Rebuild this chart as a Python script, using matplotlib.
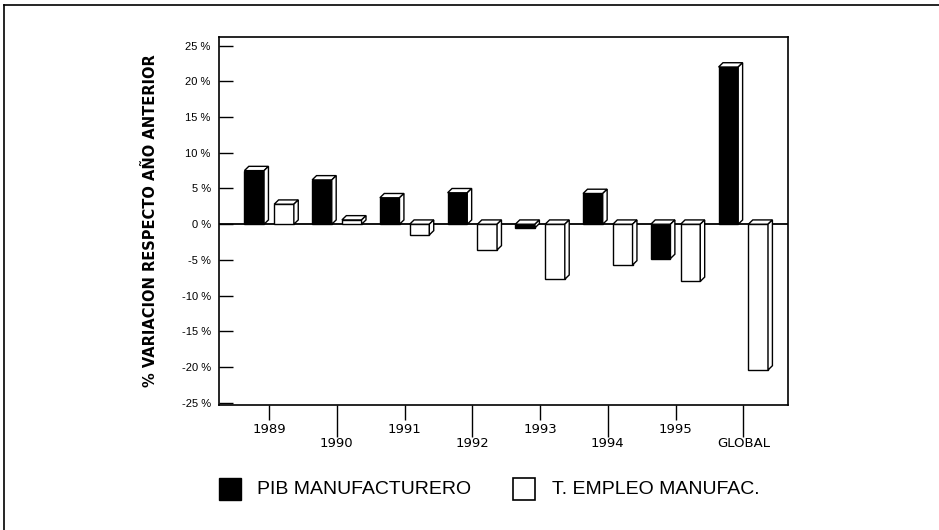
import numpy as np
import matplotlib.pyplot as plt
from matplotlib.patches import Rectangle, Polygon
from matplotlib.lines import Line2D

plt.rcParams['font.family'] = ['Liberation Sans', 'DejaVu Sans']

categories = ['1989', '1990', '1991', '1992', '1993', '1994', '1995', 'GLOBAL']
pib = [7.5, 6.2, 3.7, 4.4, -0.5, 4.3, -4.8, 22.0]
empleo = [2.8, 0.6, -1.5, -3.6, -7.7, -5.7, -8.0, -20.4]
yticks = [25, 20, 15, 10, 5, 0, -5, -10, -15, -20, -25]

fig = plt.figure(figsize=(9.39, 5.30), dpi=100)
ax = fig.add_axes([219/939, 1 - 405/530, (788-219)/939, (405-37)/530])

w = 0.29
off = 0.22
dx, dy = 0.065, 0.6


def bar3d(x, v, color):
    x0, x1 = x - w/2, x + w/2
    ax.add_patch(Rectangle((x0, min(0, v)), w, abs(v), facecolor=color,
                           edgecolor='black', lw=1.0, zorder=3))
    top = max(v, 0)
    ax.add_patch(Polygon([(x0, top), (x1, top), (x1 + dx, top + dy), (x0 + dx, top + dy)],
                         closed=True, facecolor='white', edgecolor='black', lw=1.0, zorder=3))
    ax.add_patch(Polygon([(x1, min(v, 0)), (x1, top), (x1 + dx, top + dy), (x1 + dx, min(v, 0) + dy)],
                         closed=True, facecolor='white', edgecolor='black', lw=1.0, zorder=3))


for i in range(len(categories)):
    bar3d(i - off, pib[i], 'black')
    bar3d(i + off, empleo[i], 'white')

ax.axhline(0, color='black', lw=1.3, zorder=2)
ax.set_xlim(-0.74, 7.66)
ax.set_ylim(-25.3, 26.2)

ax.set_yticks(yticks)
ax.set_yticklabels(['%d %%' % t for t in yticks])
ax.tick_params(axis='y', direction='in', length=10, width=1, labelsize=8, pad=6)

idx = np.arange(len(categories))
ax.set_xticks(idx[1::2])
ax.set_xticklabels(categories[1::2], family='DejaVu Sans')
ax.set_xticks(idx[0::2], minor=True)
ax.set_xticklabels(categories[0::2], minor=True, family='DejaVu Sans')
ax.tick_params(axis='x', which='major', direction='out', length=23, width=1, labelsize=9.5, pad=0)
ax.tick_params(axis='x', which='minor', direction='out', length=11, width=1, labelsize=9.5, pad=2)

for s in ax.spines.values():
    s.set_linewidth(1.2)

ax.set_ylabel('% VARIACION RESPECTO AÑO ANTERIOR', fontsize=10.5, fontweight='bold',
              family='DejaVu Sans', labelpad=17)

# legend
fig.patches.append(Rectangle((219/939, 1 - 500/530), 22/939, 22/530, transform=fig.transFigure,
                             facecolor='black', edgecolor='black', lw=1))
fig.text(257/939, 1 - 489/530, 'PIB MANUFACTURERO', fontsize=14, va='center', ha='left')
fig.patches.append(Rectangle((513/939, 1 - 500/530), 22/939, 22/530, transform=fig.transFigure,
                             facecolor='white', edgecolor='black', lw=1.2))
fig.text(552/939, 1 - 489/530, 'T. EMPLEO MANUFAC.', fontsize=14, va='center', ha='left')

# outer frame
fig.lines.append(Line2D([4/939, 1], [1 - 5/530, 1 - 5/530], transform=fig.transFigure, color='black', lw=1.2))
fig.lines.append(Line2D([4/939, 4/939], [0, 1 - 5/530], transform=fig.transFigure, color='black', lw=1.2))

fig.savefig('out.png', dpi=100)
